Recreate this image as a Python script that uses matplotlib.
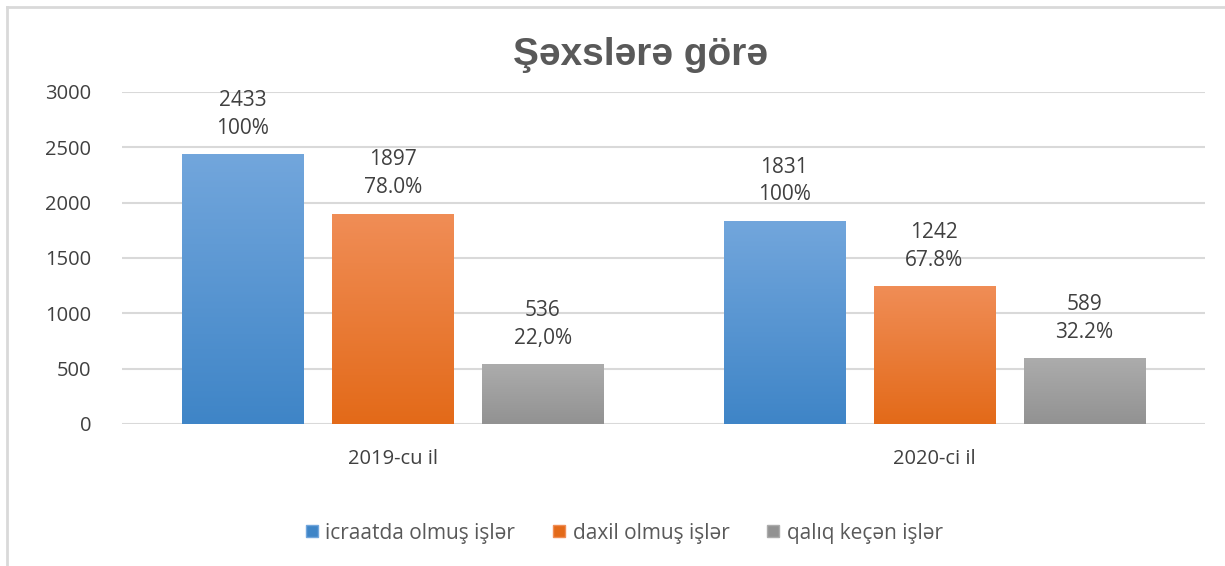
# Şəxslərə görə - grouped bars, 2019 vs 2020
import numpy as np
import matplotlib.pyplot as plt
from matplotlib.colors import LinearSegmentedColormap
from matplotlib.lines import Line2D

plt.rcParams['font.family'] = ['Open Sans', 'DejaVu Sans']

categories = ['2019-cu il', '2020-ci il']
series_names = ['icraatda olmuş işlər', 'daxil olmuş işlər', 'qalıq keçən işlər']
values = [
    [2433, 1831],
    [1897, 1242],
    [536, 589],
]
percents = [
    ['100%', '100%'],
    ['78.0%', '67.8%'],
    ['22,0%', '32.2%'],
]
# top / bottom colours of the gradient fill for each series
grad = [
    ('#72a6dc', '#3f85c7'),
    ('#f08d56', '#e36a19'),
    ('#acacac', '#929292'),
]
yticks = [0, 500, 1000, 1500, 2000, 2500, 3000]

fig = plt.figure(figsize=(12.25, 5.66), dpi=100)
ax = fig.add_axes([0.0996, 0.2509, 0.8841, 0.5866])

BARW = 0.224
STEP = 0.277
x = np.arange(len(categories))
txtc = '#404040'

for i, name in enumerate(series_names):
    cmap = LinearSegmentedColormap.from_list('g%d' % i, [grad[i][1], grad[i][0]])
    for j, v in enumerate(values[i]):
        xc = x[j] + (i - 1) * STEP
        left, right = xc - BARW / 2, xc + BARW / 2
        ax.imshow(np.linspace(0, 1, 100).reshape(-1, 1), cmap=cmap, origin='lower',
                  extent=[left, right, 0, v], aspect='auto', zorder=3)
        ax.annotate(percents[i][j], (xc, v), xytext=(0, 19), textcoords='offset points',
                    ha='center', va='center', fontsize=15, color=txtc, zorder=5)
        ax.annotate(str(v), (xc, v), xytext=(0, 39), textcoords='offset points',
                    ha='center', va='center', fontsize=15, color=txtc, zorder=5)

ax.set_xlim(-0.5, 1.5)
ax.set_ylim(0, 3000)
ax.set_yticks(yticks)
ax.set_yticklabels([str(t) for t in yticks], fontsize=14.5, color=txtc)
ax.set_xticks(x)
ax.set_xticklabels(categories, fontsize=14.5, color=txtc)
ax.tick_params(axis='x', length=0, pad=18)
ax.tick_params(axis='y', length=0, pad=22)
ax.grid(axis='y', color='#d9d9d9', linewidth=1.5, zorder=0)
for s in ax.spines.values():
    s.set_visible(False)

fig.text(0.523, 0.903, 'Şəxslərə görə', ha='center', va='center', fontsize=28,
         fontweight='bold', color='#595959', family=['Liberation Sans', 'DejaVu Sans'])

handles = [Line2D([], [], marker='s', linestyle='none', markersize=9,
                  markerfacecolor=g[1], markeredgecolor=g[0]) for g in grad]
fig.legend(handles, series_names, loc='center', bbox_to_anchor=(0.509, 0.058), ncol=3,
           frameon=False, fontsize=15, labelcolor='#595959', handlelength=0.7,
           handletextpad=0.3, columnspacing=1.75)

# chart frame (left and top edges visible)
fig.add_artist(Line2D([0.0057, 0.0057], [0, 0.987], color='#d9d9d9', linewidth=2,
                      transform=fig.transFigure))
fig.add_artist(Line2D([0.0057, 1.0], [0.987, 0.987], color='#d9d9d9', linewidth=2,
                      transform=fig.transFigure))

fig.savefig('out.png', dpi=100, facecolor='white')
